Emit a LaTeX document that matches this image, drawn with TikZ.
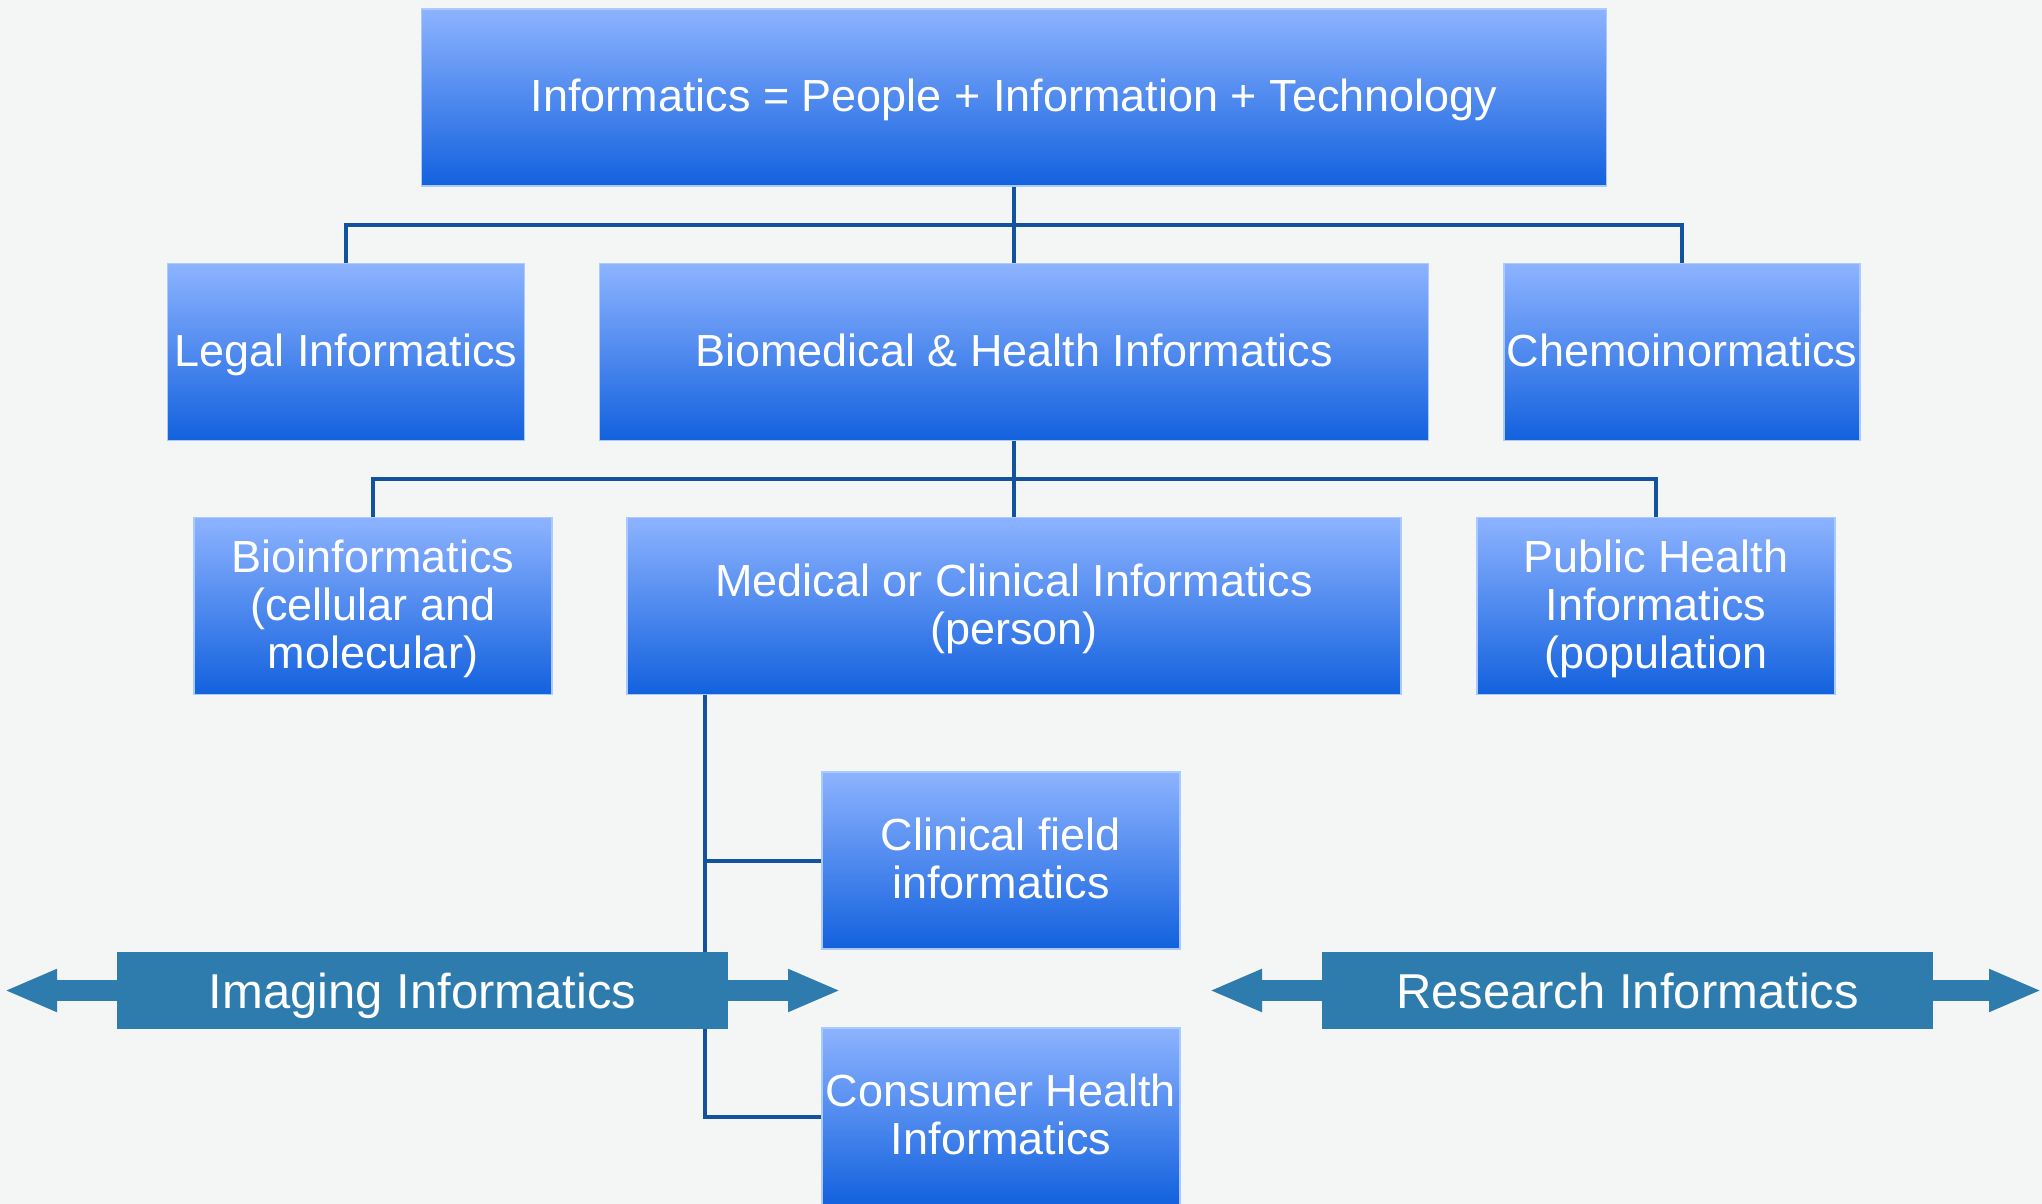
\documentclass[tikz,border=0pt]{standalone}
\usepackage{fontspec}
\setmainfont{Liberation Sans}
\usetikzlibrary{arrows.meta}

\definecolor{boxtop}{HTML}{8DB3FF}
\definecolor{boxmid}{HTML}{6F97F1}
\definecolor{boxbot}{HTML}{1261DE}
\definecolor{boxedge}{HTML}{A9C9FF}
\definecolor{linkblue}{HTML}{12529F}
\definecolor{bandblue}{HTML}{2E7BAE}
\definecolor{paper}{HTML}{F4F5F5}

\newcommand{\lift}{\rule{0pt}{21.2pt}}

\tikzset{
  field/.style={rectangle, top color=boxtop, middle color=boxmid, bottom color=boxbot,
    draw=boxedge, line width=0.8pt, text=white, align=center, inner sep=0pt,
    minimum height=88.5pt, font=\fontsize{22.5}{24}\selectfont},
  link/.style={draw=linkblue, line width=2pt},
  band/.style={rectangle, fill=bandblue, text=white, inner sep=0pt,
    minimum width=305.5pt, minimum height=38.5pt, font=\fontsize{24.5}{26}\selectfont,
    text height=17.9pt, text depth=0pt},
  bandarrow/.style={draw=bandblue, line width=10.5pt,
    {Triangle[length=26.5pt,width=19.5pt]}-{Triangle[length=26.5pt,width=19.5pt]}}
}

\begin{document}
\begin{tikzpicture}[x=0.5pt, y=-0.5pt]
    \fill[paper] (0,0) rectangle (2042,1204);
    \useasboundingbox (0,0) rectangle (2042,1204);

    % boxes
    \node[field, minimum width=592.5pt] (top) at (1014,97.5) {\lift Informatics = People + Information + Technology\strut};
    \node[field, minimum width=178.5pt] (legal) at (346,352) {\lift Legal Informatics\strut};
    \node[field, minimum width=414.5pt] (bmhi) at (1014,352) {\lift Biomedical \& Health Informatics\strut};
    \node[field, minimum width=178pt] (chemo) at (1682,352) {\lift Chemoinormatics\strut};
    \node[field, minimum width=179pt] (bioinf) at (373,606) {\lift Bioinformatics\\(cellular and\\molecular)\strut};
    \node[field, minimum width=387pt] (med) at (1014,606) {\lift Medical or Clinical Informatics\\(person)\strut};
    \node[field, minimum width=179pt] (pub) at (1656,606) {\lift Public Health\\Informatics\\(population\strut};
    \node[field, minimum width=179pt] (clin) at (1001,860.5) {\lift Clinical field\\informatics\strut};
    \node[field, minimum width=179pt] (cons) at (1001,1116.5) {\lift Consumer Health\\Informatics\strut};

    % connectors
    \coordinate (bus1) at (1014,225);
    \coordinate (bus2) at (1014,479);
    \coordinate (mtap) at (705,695);
    \draw[link] (top.south) -- (bmhi.north);
    \draw[link] (legal.north) |- (bus1) -| (chemo.north);
    \draw[link] (bmhi.south) -- (med.north);
    \draw[link] (bioinf.north) |- (bus2) -| (pub.north);
    \draw[link] (mtap) |- (clin.west);
    \draw[link] (mtap) |- (cons.west);

    % double arrows
    \coordinate (imgL) at (4,990.5);
    \coordinate (imgR) at (841,990.5);
    \coordinate (resL) at (1209,990.5);
    \coordinate (resR) at (2042,990.5);
    \draw[bandarrow] (imgL) -- (imgR);
    \draw[bandarrow] (resL) -- (resR);
    \node[band] (imaging) at (422.5,990.5) {Imaging Informatics};
    \node[band] (research) at (1627.5,990.5) {Research Informatics};
\end{tikzpicture}
\end{document}
